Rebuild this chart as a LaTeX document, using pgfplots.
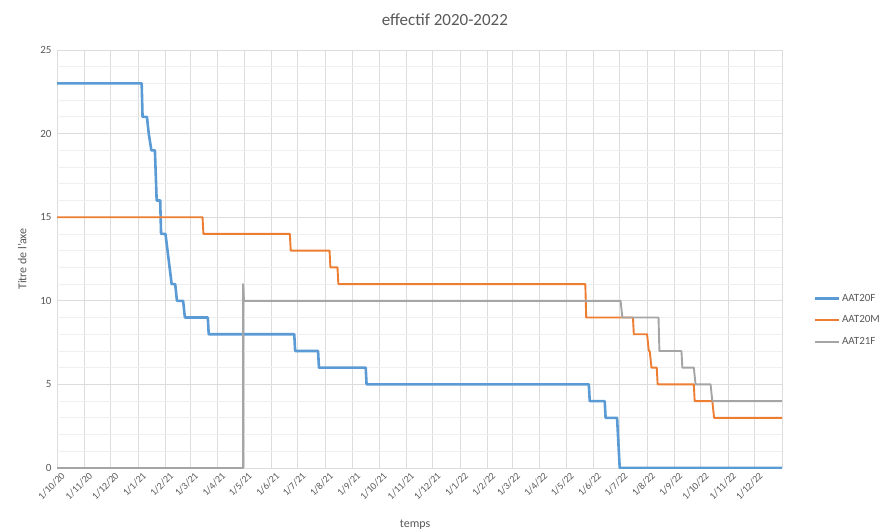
\documentclass[border=0pt]{standalone}
\usepackage{pgfplots}
\pgfplotsset{compat=1.18}
\usepackage{fontspec}
\setmainfont{Carlito}

\definecolor{xlblue}{HTML}{5B9BD5}
\definecolor{xlorange}{HTML}{ED7D31}
\definecolor{xlgray}{HTML}{A5A5A5}
\definecolor{txtgray}{HTML}{595959}
\definecolor{gridmaj}{HTML}{DCDCDC}
\definecolor{gridmin}{HTML}{EFEFEF}

% x = days since 1/10/2020
\begin{document}
\begin{tikzpicture}
\path[use as bounding box] (0pt,0pt) rectangle (880pt,531pt);
\begin{axis}[%
at={(57pt,63pt)},
anchor=south west,
width=725pt,
height=418pt,
scale only axis,
xmin=0, xmax=822,
ymin=0, ymax=25,
xtick={0,31,61,92,123,151,182,212,243,273,304,335,365,396,426,457,488,516,547,577,608,638,669,700,730,761,791},
xticklabels={1/10/20,1/11/20,1/12/20,1/1/21,1/2/21,1/3/21,1/4/21,1/5/21,1/6/21,1/7/21,1/8/21,1/9/21,1/10/21,1/11/21,1/12/21,1/1/22,1/2/22,1/3/22,1/4/22,1/5/22,1/6/22,1/7/22,1/8/22,1/9/22,1/10/22,1/11/22,1/12/22},
extra x ticks={822},
extra x tick labels={},
extra x tick style={grid=major},
ytick={0,5,10,15,20,25},
minor y tick num=4,
xmajorgrids, ymajorgrids, yminorgrids,
major grid style={gridmaj, line width=0.8pt},
minor grid style={gridmin, line width=0.8pt},
axis line style={draw=none},
major tick length=0pt, minor tick length=0pt,
/pgf/number format/assume math mode=true,
yticklabel style={font=\fontsize{11}{13}\selectfont, text=txtgray, xshift=-2pt},
xticklabel style={font=\fontsize{10}{12}\selectfont, text=txtgray, rotate=45, anchor=east, inner sep=1pt, yshift=-9pt, xshift=1pt},
title={effectif 2020-2022},
title style={at={(axis description cs:0.535,1.058)}, anchor=center, font=\fontsize{17}{20}\selectfont, text=txtgray},
xlabel={temps},
xlabel style={at={(axis description cs:0.494,-0.136)}, anchor=center, font=\fontsize{12}{14}\selectfont, text=txtgray},
ylabel={Titre de l'axe},
ylabel style={at={(axis description cs:-0.048,0.5)}, anchor=center, font=\fontsize{12}{14}\selectfont, text=txtgray},
legend style={at={(axis description cs:1.039,0.354)}, anchor=west, draw=none, fill=none,
  font=\fontsize{11}{13}\selectfont, text=txtgray, row sep=9pt},
legend cell align=left,
legend image code/.code={\draw[#1] (0pt,0pt) -- (24pt,0pt);},
]
\addplot[color=xlblue, line width=2.6pt, line join=round] coordinates {
(0,23) (96,23) (97,21) (102,21) (104,20) (107,19) (111,19) (113,16) (117,16) (118,14)
(123,14) (130,11) (134,11) (136,10) (143,10) (145,9) (171,9) (172,8) (269,8) (270,7)
(296,7) (297,6) (350,6) (351,5) (603,5) (604,4) (621,4) (622,3) (635,3) (638,0) (822,0)
};
\addlegendentry{AAT20F}
\addplot[color=xlorange, line width=1.9pt, line join=round] coordinates {
(0,15) (165,15) (166,14) (264,14) (265,13) (309,13) (310,12) (318,12) (319,11) (599,11)
(600,9) (653,9) (654,8) (669,8) (671,7) (672,7) (674,6) (680,6) (681,5) (722,5) (723,4)
(743,4) (745,3) (822,3)
};
\addlegendentry{AAT20M}
\addplot[color=xlgray, line width=1.9pt, line join=round] coordinates {
(0,0) (211,0) (211,11) (212,10) (639,10) (641,9) (682,9) (683,7) (708,7) (709,6)
(722,6) (724,5) (741,5) (743,4) (822,4)
};
\addlegendentry{AAT21F}
\end{axis}
\end{tikzpicture}
\end{document}
